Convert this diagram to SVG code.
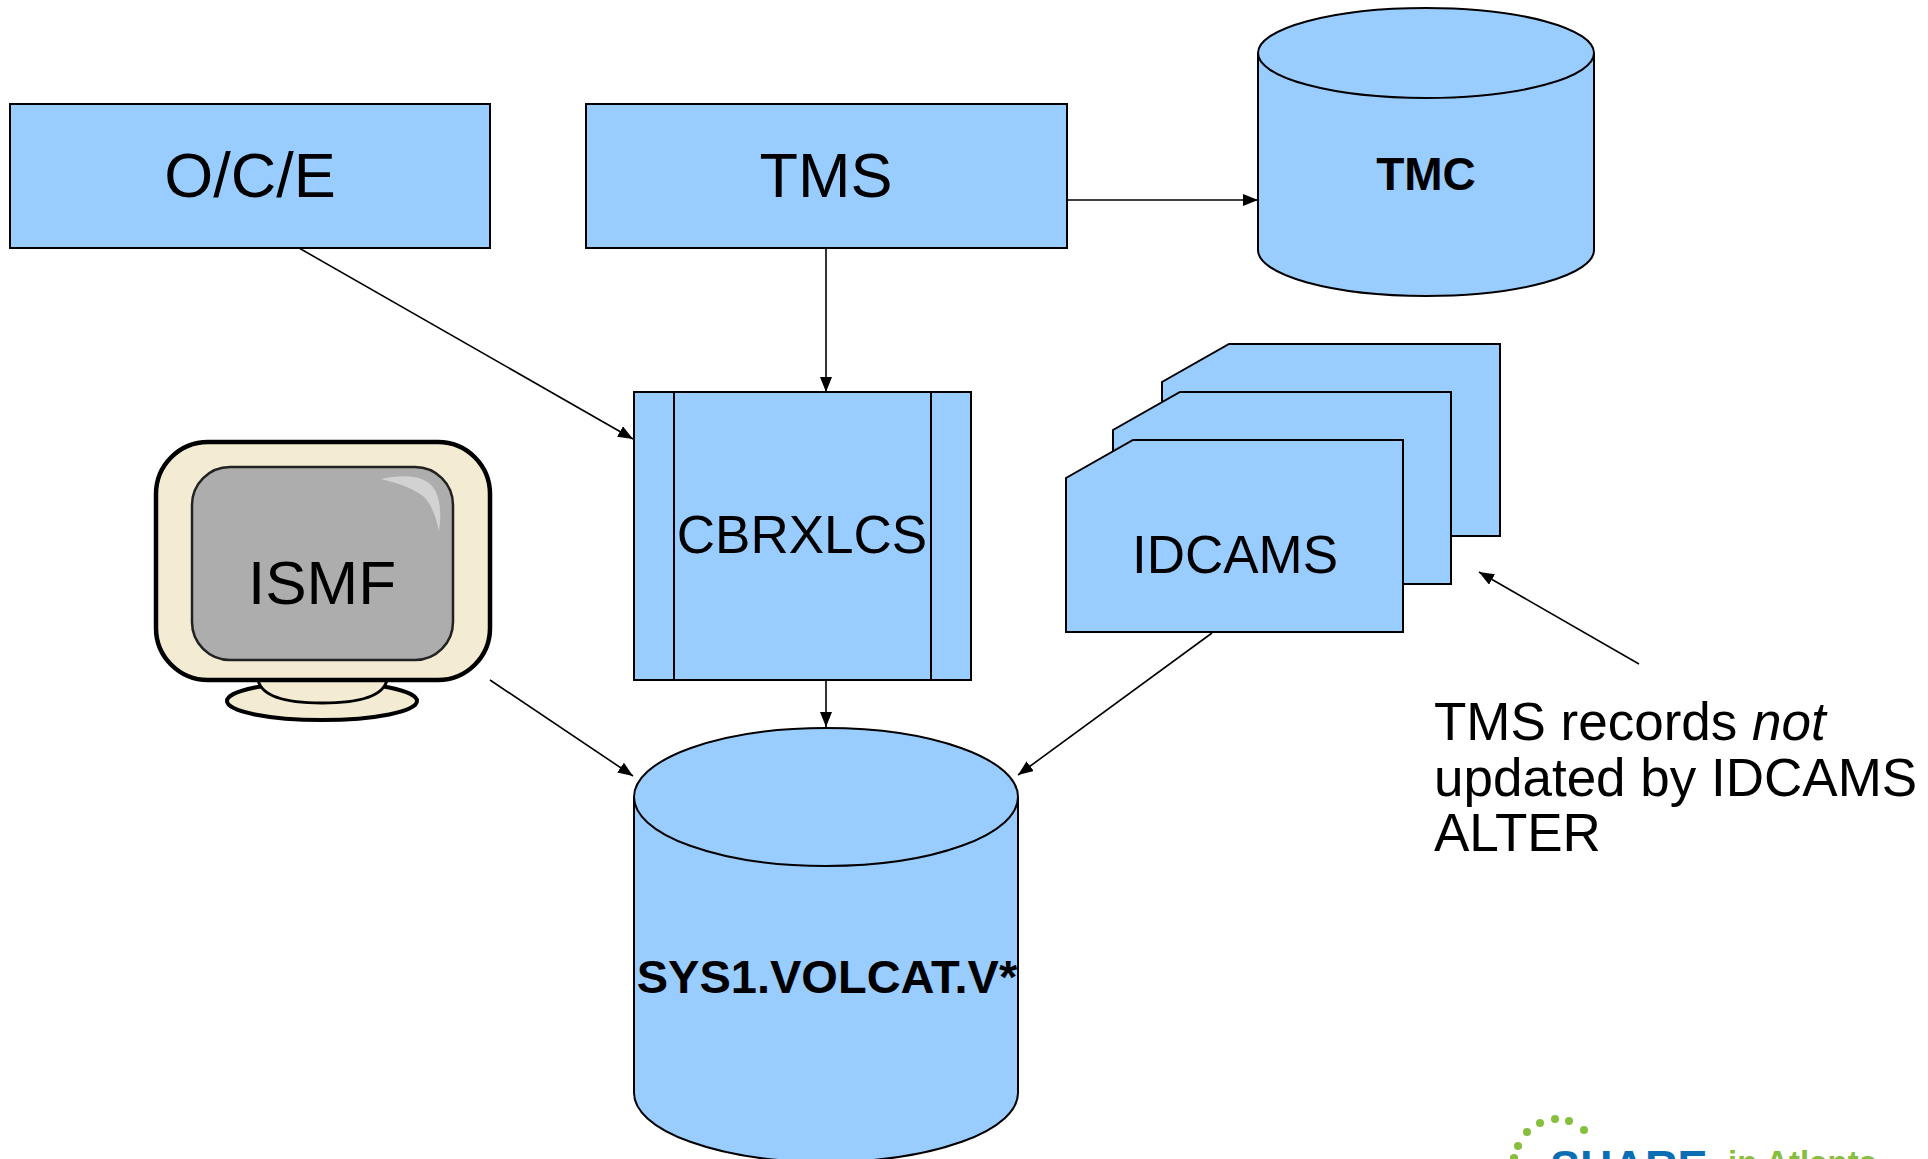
<svg xmlns="http://www.w3.org/2000/svg" width="1928" height="1159" viewBox="0 0 1928 1159">
<style>
.box{fill:#99CCFF;stroke:#000;stroke-width:2}
.lbl{font-family:"Liberation Sans",Arial,sans-serif;fill:#000;text-anchor:middle}
.b{font-weight:bold}
.con{stroke:#000;stroke-width:1.6;fill:none;marker-end:url(#ah)}
.note{font-family:"Liberation Sans",Arial,sans-serif;font-size:53px;fill:#000}
</style>
<defs>
<marker id="ah" viewBox="0 0 15 12" refX="15" refY="6" markerWidth="15" markerHeight="12" markerUnits="userSpaceOnUse" orient="auto">
<path d="M0,0 L15,6 L0,12 z" fill="#000"/>
</marker>
</defs>
<rect width="1928" height="1159" fill="#fff"/>

<g id="connectors">
<line class="con" x1="1067" y1="200" x2="1258" y2="200"/>
<line class="con" x1="826" y1="248" x2="826" y2="392"/>
<line class="con" x1="299" y1="248" x2="633" y2="439"/>
<line class="con" x1="826" y1="680" x2="826" y2="727"/>
<line class="con" x1="490" y1="680" x2="633" y2="776"/>
<line class="con" x1="1212" y1="633" x2="1018" y2="775"/>
<line class="con" x1="1639" y1="664" x2="1479" y2="572"/>
</g>

<g id="oce">
<rect class="box" x="10" y="104" width="480" height="144"/>
<text class="lbl" x="250" y="197" font-size="63">O/C/E</text>
</g>

<g id="tms">
<rect class="box" x="586" y="104" width="481" height="144"/>
<text class="lbl" x="826" y="197" font-size="63">TMS</text>
</g>

<g id="tmc">
<path class="box" d="M1258,53 L1258,250 A168,46 0 0 0 1594,250 L1594,53"/>
<ellipse class="box" cx="1426" cy="53" rx="168" ry="45"/>
<text class="lbl b" x="1426" y="190" font-size="46">TMC</text>
</g>

<g id="cbrxlcs">
<rect class="box" x="634" y="392" width="337" height="288"/>
<line x1="674" y1="392" x2="674" y2="680" stroke="#000" stroke-width="2"/>
<line x1="931" y1="392" x2="931" y2="680" stroke="#000" stroke-width="2"/>
<text class="lbl" x="802" y="553" font-size="53">CBRXLCS</text>
</g>

<g id="idcams">
<path class="box" d="M1229,344 L1500,344 L1500,536 L1162,536 L1162,382 Z"/>
<path class="box" d="M1180,392 L1451,392 L1451,584 L1113,584 L1113,430 Z"/>
<path class="box" d="M1133,440 L1403,440 L1403,632 L1066,632 L1066,478 Z"/>
<text class="lbl" x="1235" y="573" font-size="53">IDCAMS</text>
</g>

<g id="ismf">
<ellipse cx="322" cy="701" rx="95" ry="19" fill="#F3ECD3" stroke="#000" stroke-width="4"/>
<path d="M258,680 C262,698 290,703 322,703 C354,703 383,698 387,680 Z" fill="#F3ECD3" stroke="#000" stroke-width="3"/>
<rect x="156" y="442" width="334" height="238" rx="52" ry="52" fill="#F3ECD3" stroke="#000" stroke-width="4.5"/>
<rect x="192" y="467" width="261" height="193" rx="38" ry="38" fill="#ADADAD" stroke="#222" stroke-width="2.5"/>
<path d="M381,479 C405,474 428,475 436,492 C441,503 441,518 439,531 C436,518 432,505 424,497 C412,487 396,483 381,479 Z" fill="#D2D2D2"/>
<text class="lbl" x="322" y="604" font-size="62">ISMF</text>
</g>

<g id="volcat">
<path class="box" d="M634,797 L634,1093 A192,69 0 0 0 1018,1093 L1018,797"/>
<ellipse class="box" cx="826" cy="797" rx="192" ry="69"/>
<text class="lbl b" x="827" y="993" font-size="47">SYS1.VOLCAT.V*</text>
</g>

<g id="note">
<text class="note" x="1434" y="740">TMS records <tspan font-style="italic">not</tspan></text>
<text class="note" x="1434" y="796">updated by IDCAMS</text>
<text class="note" x="1434" y="851">ALTER</text>
</g>

<g id="logo">
<g fill="#86BF3E">
<circle cx="1584" cy="1130" r="4"/>
<circle cx="1569" cy="1121" r="4"/>
<circle cx="1555" cy="1119" r="4"/>
<circle cx="1540" cy="1123" r="4"/>
<circle cx="1527" cy="1132" r="4"/>
<circle cx="1518" cy="1146" r="4"/>
<circle cx="1514" cy="1158" r="4"/>
</g>
<text x="1550" y="1182" font-family="'Liberation Sans',Arial,sans-serif" font-weight="bold" font-size="45" fill="#0B6DB3">SHARE</text>
<text x="1728" y="1174" font-family="'Liberation Sans',Arial,sans-serif" font-weight="bold" font-size="33" fill="#86BF3E">in Atlanta</text>
</g>
</svg>
